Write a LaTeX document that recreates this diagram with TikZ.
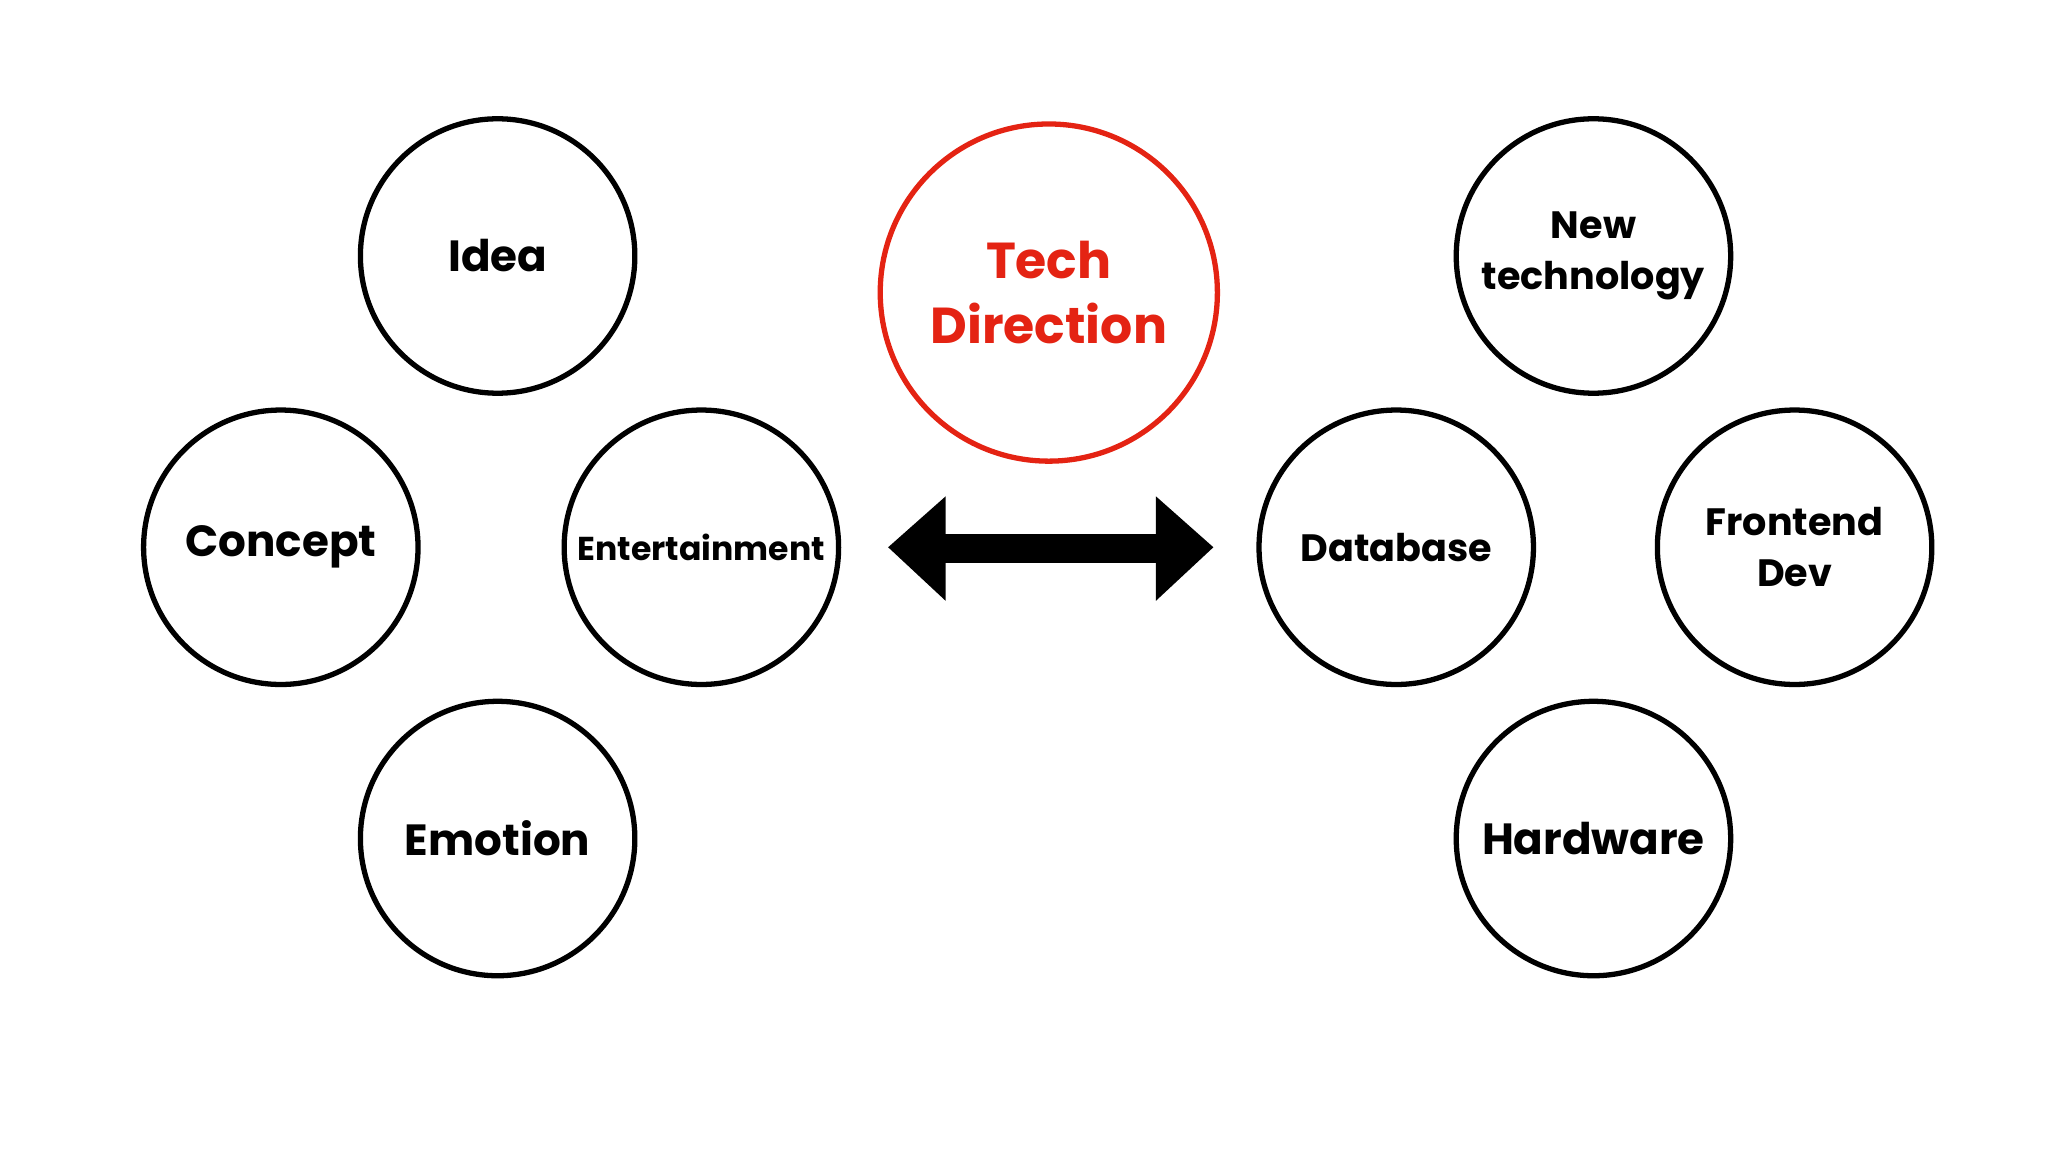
\documentclass[tikz,border=0pt]{standalone}
\usepackage{fontspec}
\setmainfont{Poppins}
\definecolor{techred}{RGB}{228,35,19}
\begin{document}
\begin{tikzpicture}[x=0.01cm,y=-0.01cm,
  bub/.style={circle,draw=black,line width=1.15pt,minimum size=2.1cm,inner sep=0pt,align=center,font=\bfseries\fontsize{9.5}{11}\selectfont},
  redbub/.style={bub,draw=techred,text=techred,minimum size=2.58cm,font=\bfseries\fontsize{11}{14}\selectfont}]
\useasboundingbox (0,0) rectangle (1568,882);
\node[bub] (idea) at (381,196) {Idea};
\node[bub] (concept) at (215,419) {Concept};
\node[bub,font=\bfseries\fontsize{7.2}{9}\selectfont] (ent) at (537,419) {Entertainment};
\node[bub] (emotion) at (381,642) {Emotion};
\node[redbub] (tech) at (803,224) {Tech\\Direction};
\node[bub,font=\bfseries\fontsize{8.3}{11}\selectfont] (newtech) at (1220,196) {New\\technology};
\node[bub,font=\bfseries\fontsize{8.3}{11}\selectfont] (db) at (1069,419) {Database};
\node[bub,font=\bfseries\fontsize{8.3}{11}\selectfont] (fe) at (1374,419) {Frontend\\Dev};
\node[bub] (hw) at (1220,642) {Hardware};
\coordinate (al) at (680,419);
\coordinate (ar) at (929,419);
\fill[black] (al) -- (724,380) -- (724,409) -- (885,409) -- (885,380) -- (ar)
  -- (885,460) -- (885,431) -- (724,431) -- (724,460) -- cycle;
\end{tikzpicture}
\end{document}
